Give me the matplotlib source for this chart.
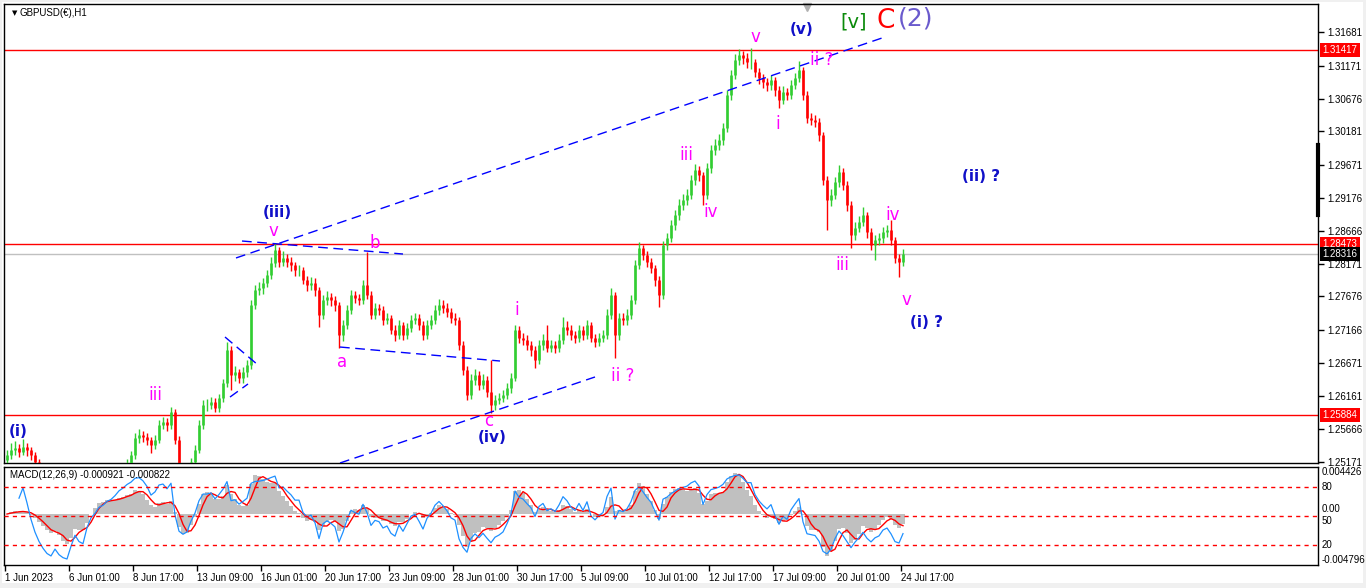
import matplotlib
matplotlib.use('Agg')
import matplotlib.pyplot as plt
import matplotlib.transforms as mtransforms
from matplotlib.patches import Rectangle
import numpy as np
import pandas as pd

plt.rcParams['font.family'] = ['Liberation Sans', 'DejaVu Sans']

first_open = 1.2520
closes = [
    1.2527, 1.2535, 1.2538, 1.2532, 1.2540, 1.2535, 1.2527, 1.2517, 1.2505, 1.2490,
    1.2470, 1.2455, 1.2460, 1.2430, 1.2400, 1.2380, 1.2395, 1.2410, 1.2385, 1.2375,
    1.2400, 1.2420, 1.2430, 1.2445, 1.2450, 1.2460, 1.2465, 1.2475, 1.2490, 1.2500,
    1.2515, 1.2527, 1.2553, 1.2558, 1.2555, 1.2550, 1.2542, 1.2550, 1.2573, 1.2577,
    1.2573, 1.2593, 1.2550, 1.2505, 1.2493, 1.2497, 1.2517, 1.2535, 1.2573, 1.2603,
    1.2603, 1.2608, 1.2599, 1.2614, 1.2636, 1.2687, 1.2649, 1.2653, 1.2644, 1.2653,
    1.2664, 1.2755, 1.2777, 1.2780, 1.2788, 1.2800, 1.2819, 1.2838, 1.2820, 1.2826,
    1.2820, 1.2815, 1.2808, 1.2808, 1.2792, 1.2785, 1.2788, 1.2777, 1.2740, 1.2762,
    1.2767, 1.2762, 1.2755, 1.2709, 1.2724, 1.2747, 1.2770, 1.2765, 1.2762, 1.2785,
    1.2770, 1.2740, 1.2750, 1.2747, 1.2732, 1.2735, 1.2717, 1.2709, 1.2724, 1.2709,
    1.2720, 1.2732, 1.2735, 1.2724, 1.2709, 1.2724, 1.2732, 1.2747, 1.2755, 1.2750,
    1.2744, 1.2735, 1.2732, 1.2694, 1.2656, 1.2618, 1.2641, 1.2649, 1.2634, 1.2641,
    1.2623, 1.2603, 1.2611, 1.2614, 1.2618, 1.2629, 1.2644, 1.2717, 1.2705, 1.2702,
    1.2694, 1.2687, 1.2671, 1.2694, 1.2702, 1.2690, 1.2694, 1.2690, 1.2702, 1.2722,
    1.2717, 1.2709, 1.2705, 1.2717, 1.2709, 1.2724, 1.2705, 1.2699, 1.2705, 1.2709,
    1.2740, 1.2770, 1.2709, 1.2735, 1.2732, 1.2740, 1.2762, 1.2815, 1.2841, 1.2831,
    1.2820, 1.2811, 1.2792, 1.2770, 1.2845, 1.2856, 1.2876, 1.2891, 1.2906, 1.2914,
    1.2922, 1.2944, 1.2959, 1.2952, 1.2922, 1.2962, 1.2990, 1.2997, 1.3005, 1.3023,
    1.3073, 1.3103, 1.3126, 1.3134, 1.3129, 1.3123, 1.3123, 1.3108, 1.3099, 1.3093,
    1.3088, 1.3096, 1.3081, 1.3066, 1.3078, 1.3073, 1.3088, 1.3099, 1.3111, 1.3073,
    1.3038, 1.3035, 1.3032, 1.3012, 1.2944, 1.2914, 1.2922, 1.2941, 1.2956, 1.2937,
    1.2906, 1.2861, 1.2872, 1.2881, 1.2891, 1.2865, 1.2846, 1.2853, 1.2856, 1.2865,
    1.2868, 1.2853, 1.2826, 1.2820, 1.2832]
highs = [
    1.2535, 1.2545, 1.2548, 1.2544, 1.2551, 1.2546, 1.2540, 1.2532, 1.2522, 1.2512,
    1.2496, 1.2478, 1.2468, 1.2465, 1.2436, 1.2408, 1.2402, 1.2418, 1.2415, 1.2392,
    1.2407, 1.2428, 1.2437, 1.2452, 1.2458, 1.2467, 1.2473, 1.2482, 1.2497, 1.2508,
    1.2522, 1.2534, 1.2561, 1.2566, 1.2564, 1.2561, 1.2555, 1.2558, 1.2580, 1.2585,
    1.2583, 1.2600, 1.2597, 1.2556, 1.2512, 1.2505, 1.2523, 1.2542, 1.2580, 1.2611,
    1.2612, 1.2615, 1.2614, 1.2620, 1.2643, 1.2699, 1.2692, 1.2662, 1.2658, 1.2660,
    1.2672, 1.2762, 1.2785, 1.2790, 1.2796, 1.2808, 1.2827, 1.2848, 1.2843, 1.2836,
    1.2832, 1.2827, 1.2820, 1.2816, 1.2813, 1.2798, 1.2797, 1.2795, 1.2782, 1.2770,
    1.2776, 1.2773, 1.2768, 1.2760, 1.2732, 1.2755, 1.2778, 1.2776, 1.2772, 1.2792,
    1.2835, 1.2776, 1.2758, 1.2756, 1.2753, 1.2743, 1.2740, 1.2724, 1.2732, 1.2729,
    1.2728, 1.2740, 1.2743, 1.2741, 1.2730, 1.2732, 1.2740, 1.2755, 1.2764, 1.2762,
    1.2757, 1.2750, 1.2742, 1.2737, 1.2700, 1.2662, 1.2650, 1.2657, 1.2655, 1.2650,
    1.2647, 1.2672, 1.2619, 1.2622, 1.2626, 1.2637, 1.2652, 1.2725, 1.2723, 1.2712,
    1.2709, 1.2700, 1.2692, 1.2702, 1.2710, 1.2724, 1.2702, 1.2700, 1.2710, 1.2736,
    1.2730, 1.2724, 1.2716, 1.2725, 1.2723, 1.2732, 1.2729, 1.2711, 1.2713, 1.2717,
    1.2748, 1.2781, 1.2775, 1.2743, 1.2742, 1.2748, 1.2770, 1.2823, 1.2850, 1.2846,
    1.2836, 1.2826, 1.2816, 1.2798, 1.2852, 1.2864, 1.2884, 1.2899, 1.2915, 1.2923,
    1.2931, 1.2952, 1.2968, 1.2966, 1.2957, 1.2970, 1.2998, 1.3006, 1.3014, 1.3031,
    1.3081, 1.3111, 1.3135, 1.3143, 1.3140, 1.3136, 1.3144, 1.3128, 1.3114, 1.3105,
    1.3099, 1.3104, 1.3101, 1.3087, 1.3086, 1.3084, 1.3096, 1.3107, 1.3125, 1.3116,
    1.3079, 1.3046, 1.3043, 1.3038, 1.3017, 1.2950, 1.2930, 1.2949, 1.2967, 1.2962,
    1.2943, 1.2912, 1.2880, 1.2889, 1.2903, 1.2896, 1.2871, 1.2861, 1.2864, 1.2873,
    1.2876, 1.2884, 1.2858, 1.2832, 1.2840]
lows = [
    1.2514, 1.2522, 1.2528, 1.2524, 1.2528, 1.2526, 1.2519, 1.2508, 1.2497, 1.2482,
    1.2462, 1.2446, 1.2448, 1.2422, 1.2392, 1.2370, 1.2372, 1.2388, 1.2378, 1.2368,
    1.2370, 1.2394, 1.2413, 1.2424, 1.2438, 1.2443, 1.2452, 1.2458, 1.2469, 1.2484,
    1.2494, 1.2509, 1.2522, 1.2546, 1.2547, 1.2542, 1.2530, 1.2536, 1.2545, 1.2566,
    1.2564, 1.2567, 1.2544, 1.2498, 1.2485, 1.2486, 1.2491, 1.2510, 1.2530, 1.2567,
    1.2594, 1.2597, 1.2592, 1.2593, 1.2608, 1.2630, 1.2626, 1.2640, 1.2636, 1.2636,
    1.2645, 1.2658, 1.2748, 1.2770, 1.2772, 1.2782, 1.2794, 1.2812, 1.2812, 1.2814,
    1.2812, 1.2806, 1.2799, 1.2798, 1.2786, 1.2776, 1.2778, 1.2768, 1.2722, 1.2734,
    1.2755, 1.2753, 1.2745, 1.2690, 1.2700, 1.2718, 1.2741, 1.2757, 1.2754, 1.2756,
    1.2764, 1.2733, 1.2733, 1.2739, 1.2725, 1.2726, 1.2710, 1.2700, 1.2703, 1.2701,
    1.2703, 1.2714, 1.2726, 1.2717, 1.2702, 1.2703, 1.2718, 1.2726, 1.2740, 1.2742,
    1.2737, 1.2727, 1.2724, 1.2686, 1.2648, 1.2610, 1.2612, 1.2633, 1.2626, 1.2627,
    1.2615, 1.2591, 1.2596, 1.2604, 1.2607, 1.2612, 1.2622, 1.2639, 1.2697, 1.2694,
    1.2686, 1.2678, 1.2659, 1.2665, 1.2687, 1.2683, 1.2683, 1.2682, 1.2684, 1.2696,
    1.2709, 1.2701, 1.2697, 1.2699, 1.2701, 1.2703, 1.2698, 1.2691, 1.2693, 1.2698,
    1.2703, 1.2734, 1.2675, 1.2702, 1.2724, 1.2725, 1.2734, 1.2756, 1.2809, 1.2823,
    1.2812, 1.2803, 1.2784, 1.2752, 1.2764, 1.2838, 1.2850, 1.2869, 1.2884, 1.2898,
    1.2906, 1.2915, 1.2937, 1.2943, 1.2906, 1.2916, 1.2955, 1.2982, 1.2989, 1.2998,
    1.3017, 1.3066, 1.3097, 1.3118, 1.3120, 1.3114, 1.3113, 1.3100, 1.3090, 1.3084,
    1.3079, 1.3081, 1.3072, 1.3053, 1.3060, 1.3065, 1.3067, 1.3082, 1.3093, 1.3066,
    1.3030, 1.3027, 1.3024, 1.3004, 1.2936, 1.2868, 1.2905, 1.2915, 1.2934, 1.2929,
    1.2897, 1.2841, 1.2853, 1.2865, 1.2874, 1.2857, 1.2838, 1.2823, 1.2846, 1.2849,
    1.2858, 1.2846, 1.2818, 1.2797, 1.2814]
bar_hours = 4

price_ticks = [1.31681, 1.31171, 1.30676, 1.30181, 1.29671, 1.29176, 1.28666,
               1.28171, 1.27676, 1.27166, 1.26671, 1.26161, 1.25666, 1.25171]
red_levels = [1.31417, 1.28473, 1.25884]
last_price = 1.28316

date_hours = [0, 64, 128, 192, 256, 320, 384, 448, 512, 576, 640, 704, 768, 832, 896]
date_labels = ['1 Jun 2023', '6 Jun 01:00', '8 Jun 17:00', '13 Jun 09:00', '16 Jun 01:00',
               '20 Jun 17:00', '23 Jun 09:00', '28 Jun 01:00', '30 Jun 17:00', '5 Jul 09:00',
               '10 Jul 01:00', '12 Jul 17:00', '17 Jul 09:00', '20 Jul 01:00', '24 Jul 17:00']

# Trendlinien: (stunde1, kurs1, stunde2, kurs2)
trend_lines = [
    (231, 1.28260, 880, 1.31610),
    (335, 1.25152, 590, 1.26456),
    (237, 1.28517, 398, 1.28320),
    (335, 1.26910, 495, 1.26698),
    (220, 1.27062, 253, 1.26638),
    (225, 1.26152, 243, 1.26350),
]

# Wellen-Beschriftungen
magenta_labels = [('iii', 150, 1.26183), ('v', 268, 1.28669), ('b', 370, 1.28487),
                  ('a', 337, 1.26683), ('i', 512, 1.27471), ('c', 484, 1.25789),
                  ('ii ?', 618, 1.26471), ('iii', 681, 1.29821), ('iv', 706, 1.28957),
                  ('v', 750, 1.31610), ('i', 773, 1.30291), ('ii ?', 817, 1.31261),
                  ('iii', 837, 1.28154), ('iv', 888, 1.28912), ('v', 901, 1.27623)]
blue_labels = [('(i)', 13, 1.25637), ('(iii)', 272, 1.28942), ('(iv)', 487, 1.25546),
               ('(v)', 797, 1.31731), ('(i) ?', 922, 1.27289), ('(ii) ?', 976, 1.29488)]
big_labels = [('[v]', 849, 1.31837, '#0a8a0a', 14), ('C', 881, 1.31853, '#ff0000', 19),
              ('(2)', 911, 1.31883, '#6a5acd', 18)]

W, H = 1366, 588
fig = plt.figure(figsize=(W / 100, H / 100), dpi=100)
fig.patches.append(Rectangle((0, 0), 1, 1, transform=fig.transFigure,
                             facecolor='#f0f0f0', edgecolor='none', zorder=-20))
fig.patches.append(Rectangle((2 / W, 1 - 583 / H), 1361 / W, 581 / H, transform=fig.transFigure,
                             facecolor='white', edgecolor='none', zorder=-19))

ax = fig.add_axes([4 / W, 1 - 463 / H, 1314 / W, 459 / H])
ax2 = fig.add_axes([4 / W, 1 - 565 / H, 1314 / W, 98 / H])
for a in (ax, ax2):
    a.set_xlim(-1, 1313)
    for sp in a.spines.values():
        sp.set_linewidth(1)
        sp.set_color('black')
ax.set_ylim(1.25152, 1.32110)

# Balken
closes_a = np.array(closes)
opens_a = np.array([first_open] + closes[:-1])
xs = np.arange(len(closes)) * bar_hours + bar_hours / 2
cols = np.where(closes_a >= opens_a, '#32cd32', '#ff0000')
ax.vlines(xs, lows, highs, colors=cols, linewidth=1.0, zorder=3)
ax.vlines(xs, np.minimum(opens_a, closes_a), np.maximum(opens_a, closes_a),
          colors=cols, linewidth=1.9, zorder=3)

# Linien
for lvl in red_levels:
    ax.axhline(lvl, color='#ff0000', linewidth=1, zorder=2)
ax.axhline(last_price, color='#c0c0c0', linewidth=1, zorder=1)
for x1, y1, x2, y2 in trend_lines:
    ax.plot([x1, x2], [y1, y2], color='#0000ff', linewidth=1, dashes=(7, 4), zorder=4)

for txt, x, y in magenta_labels:
    ax.text(x, y, txt, color='#ff00ff', fontsize=12, ha='center', va='center',
            family='DejaVu Sans', zorder=5)
for txt, x, y in blue_labels:
    ax.text(x, y, txt, color='#1010c8', fontsize=11, ha='center', va='center',
            family='DejaVu Sans', fontweight='bold', zorder=5)
for txt, x, y, c, fs in big_labels:
    ax.text(x, y, txt, color=c, fontsize=fs, ha='center', va='center',
            family='DejaVu Sans', zorder=5, clip_on=False)

# rechte Preisachse
ax.yaxis.tick_right()
ax.set_yticks(price_ticks)
ax.set_yticklabels(['%.5f' % p for p in price_ticks])
ax.tick_params(axis='y', length=4, width=1, pad=3, labelsize=7, direction='out')
ax.set_xticks([])
trans = mtransforms.blended_transform_factory(ax.transAxes, ax.transData)
for lvl in red_levels:
    ax.text(1.0035, lvl, '%.5f' % lvl, transform=trans, color='white', fontsize=7,
            ha='left', va='center', zorder=6,
            bbox=dict(boxstyle='square,pad=0.22', facecolor='#ff0000', edgecolor='none'))
ax.text(1.0035, last_price, '%.5f' % last_price, transform=trans, color='white', fontsize=7,
        ha='left', va='center', zorder=6,
        bbox=dict(boxstyle='square,pad=0.22', facecolor='black', edgecolor='none'))
ax.plot([1313, 1313], [1.2997, 1.2891], color='black', linewidth=3, clip_on=False)
ax.plot([802], [1.3206], marker='v', markersize=6, color='#b0b0b0', clip_on=False)

fig.text(12 / W, 1 - 13 / H, '\u25bc', fontsize=5, va='center', family='DejaVu Sans')
fig.text(20 / W, 1 - 13 / H, 'GBPUSD(\u20ac),H1', fontsize=7, va='center')

# MACD
s = pd.Series(closes)
macd = s.ewm(span=3.1, adjust=False).mean() - s.ewm(span=6.55, adjust=False).mean()
signal = macd.rolling(3, min_periods=1).mean()
delta = s.diff()
delta.iloc[0] = closes[0] - first_open
gain = delta.clip(lower=0).ewm(alpha=1 / 7, min_periods=4).mean()
loss = (-delta.clip(upper=0)).ewm(alpha=1 / 7, min_periods=4).mean()
rsi = 100 - 100 / (1 + gain / (loss + 1e-9))

ax2.set_ylim(-0.004796, 0.004426)
ax2.bar(xs, macd, width=bar_hours, color='#c0c0c0', linewidth=0, zorder=1)
ax2.plot(xs, signal, color='#ff0000', linewidth=1, zorder=3)
ax3 = ax2.twinx()
ax3.set_ylim(0, 100)
ax3.set_xlim(-1, 1313)
ax3.plot(xs, rsi, color='#1e90ff', linewidth=0.9, zorder=2)
for lvl in (80, 50, 20):
    ax3.axhline(lvl, color='#ff0000', linewidth=1, dashes=(3, 3))
ax3.set_yticks([])
ax2.set_yticks([])
for sp in ax3.spines.values():
    sp.set_visible(False)

ax2.set_xticks(date_hours)
ax2.set_xticklabels(date_labels)
ax2.tick_params(axis='x', length=4, width=1, pad=2, labelsize=7)
for lbl in ax2.get_xticklabels():
    lbl.set_ha('left')

trans2 = mtransforms.blended_transform_factory(ax2.transAxes, ax2.transData)
trans3 = mtransforms.blended_transform_factory(ax3.transAxes, ax3.transData)
ax2.text(1.003, 0.004426, '0.004426', transform=trans2, fontsize=7, va='top')
ax2.text(1.003, -0.004796, '-0.004796', transform=trans2, fontsize=7, va='bottom')
ax2.text(1.003, 0.0, '0.00', transform=trans2, fontsize=7, va='bottom')
for lvl, va in ((80, 'center'), (50, 'top'), (20, 'center')):
    ax3.text(1.003, lvl, str(lvl), transform=trans3, fontsize=7, va=va)
fig.text(10 / W, 1 - 475 / H, 'MACD(12,26,9) -0.000921 -0.000822', fontsize=7, va='center')

fig.savefig('out.png', dpi=100)
